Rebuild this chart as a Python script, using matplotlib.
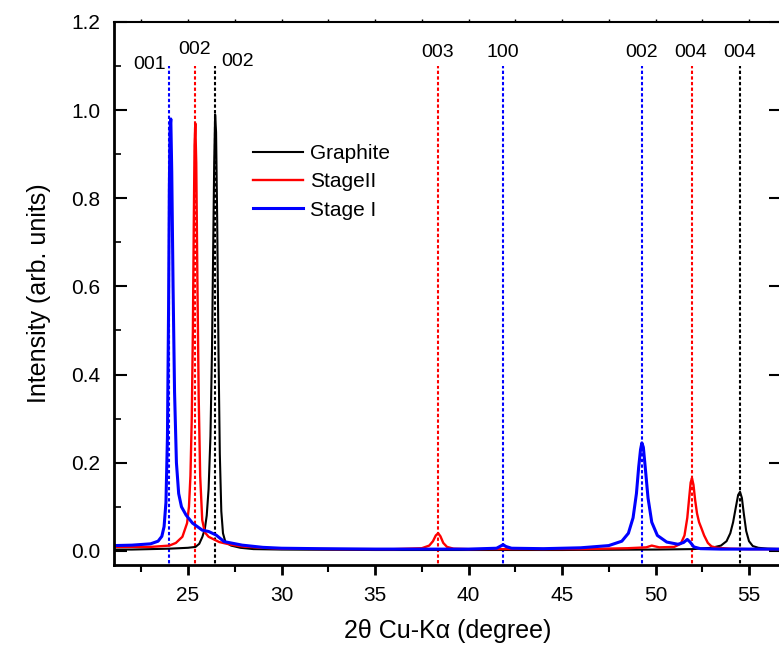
import matplotlib
matplotlib.use("Agg")
import matplotlib.pyplot as plt
from matplotlib.ticker import MultipleLocator, FormatStrFormatter

plt.rcParams['font.family'] = ['Liberation Sans', 'DejaVu Sans']

# Graphite (black)
graphite_x = [21.0, 22.0, 23.0, 24.0, 25.0, 25.4, 25.6, 25.77, 25.9, 26.0, 26.1, 26.2, 26.28, 26.35,
              26.4, 26.45, 26.5, 26.56, 26.63, 26.7, 26.78, 26.87, 27.0, 27.3, 27.8, 28.5, 30.0,
              35.0, 40.0, 45.0, 50.0, 52.0, 53.0, 53.5, 53.8, 54.0, 54.15, 54.3, 54.42, 54.52,
              54.62, 54.72, 54.85, 55.0, 55.2, 55.5, 56.0, 56.7]
graphite_y = [0.003, 0.003, 0.004, 0.005, 0.007, 0.009, 0.016, 0.032, 0.05, 0.08, 0.14, 0.26, 0.45,
              0.7, 0.88, 0.99, 0.95, 0.75, 0.45, 0.22, 0.09, 0.04, 0.02, 0.012, 0.007, 0.004, 0.003,
              0.002, 0.002, 0.002, 0.003, 0.004, 0.007, 0.012, 0.022, 0.04, 0.065, 0.1, 0.127,
              0.134, 0.12, 0.085, 0.045, 0.022, 0.011, 0.007, 0.005, 0.004]

# Stage II (red)
stage2_x = [21.0, 22.0, 23.0, 24.0, 24.35, 24.7, 24.95, 25.05, 25.13, 25.2, 25.26, 25.31, 25.35,
            25.39, 25.44, 25.5, 25.57, 25.65, 25.76, 25.9, 26.1, 26.67, 27.3, 27.9, 29.0, 30.0,
            33.0, 36.0, 37.5, 37.9, 38.1, 38.25, 38.38, 38.5, 38.65, 38.85, 39.2, 40.0, 43.0, 46.0,
            48.5, 49.5, 49.8, 50.2, 51.0, 51.35, 51.55, 51.7, 51.8, 51.88, 51.95, 52.03, 52.12,
            52.22, 52.33, 52.45, 52.6, 52.8, 53.0, 53.3, 54.0, 55.0, 56.7]
stage2_y = [0.009, 0.009, 0.009, 0.012, 0.018, 0.032, 0.063, 0.1, 0.17, 0.3, 0.5, 0.75, 0.92,
            0.97, 0.88, 0.62, 0.35, 0.17, 0.07, 0.042, 0.032, 0.02, 0.014, 0.01, 0.007, 0.005,
            0.004, 0.004, 0.006, 0.012, 0.022, 0.035, 0.04, 0.033, 0.018, 0.009, 0.005, 0.004,
            0.004, 0.004, 0.006, 0.008, 0.012, 0.008, 0.009, 0.016, 0.035, 0.075, 0.12, 0.155,
            0.165, 0.15, 0.115, 0.085, 0.065, 0.052, 0.035, 0.018, 0.01, 0.007, 0.005, 0.004,
            0.004]

# Stage I (blue)
stage1_x = [21.0, 22.0, 23.0, 23.4, 23.6, 23.72, 23.82, 23.9, 23.96, 24.0, 24.04, 24.08, 24.13,
            24.2, 24.28, 24.38, 24.5, 24.65, 24.9, 25.24, 25.76, 26.1, 26.5, 26.93, 27.9, 29.0,
            30.0, 32.0, 35.0, 38.0, 40.0, 41.5, 41.72, 41.85, 42.0, 42.3, 44.0, 46.0, 47.5, 48.2,
            48.55, 48.8, 48.98, 49.1, 49.2, 49.27, 49.35, 49.45, 49.6, 49.8, 50.1, 50.6, 51.2,
            51.5, 51.7, 51.85, 52.05, 52.4, 53.5, 56.7]
stage1_y = [0.012, 0.013, 0.016, 0.022, 0.033, 0.055, 0.11, 0.26, 0.55, 0.82, 0.96, 0.98, 0.86,
            0.6, 0.36, 0.2, 0.13, 0.1, 0.081, 0.063, 0.047, 0.044, 0.036, 0.021, 0.013, 0.008,
            0.006, 0.005, 0.004, 0.004, 0.004, 0.006, 0.011, 0.014, 0.01, 0.006, 0.005, 0.007,
            0.012, 0.022, 0.04, 0.075, 0.13, 0.19, 0.23, 0.245, 0.235, 0.19, 0.12, 0.065, 0.035,
            0.02, 0.015, 0.019, 0.026, 0.02, 0.009, 0.005, 0.004, 0.004]

# reflection markers
ref_pos = [24.0, 25.35, 26.45, 38.38, 41.85, 49.27, 51.95, 54.52]
ref_color = ['blue', 'red', 'black', 'red', 'blue', 'blue', 'red', 'black']
ref_label = ['001', '002', '002', '003', '100', '002', '004', '004']
label_x = [22.97, 25.37, 27.67, 38.37, 41.84, 49.27, 51.9, 54.5]
label_y = [1.103, 1.137, 1.11, 1.13, 1.13, 1.13, 1.13, 1.13]

fig = plt.figure(figsize=(7.79, 6.5), dpi=100)
ax = fig.add_axes([0.1463, 0.1308, 0.856, 0.8354])

for p, c in zip(ref_pos, ref_color):
    ax.plot([p, p], [-0.04, 1.1], ls=(0, (1.6, 1.1)), color=c, lw=1.5)

ax.plot(graphite_x, graphite_y, color='black', lw=1.5, label='Graphite')
ax.plot(stage2_x, stage2_y, color='red', lw=1.7, label='StageII')
ax.plot(stage1_x, stage1_y, color='blue', lw=2.2, label='Stage I')

for t, x, y in zip(ref_label, label_x, label_y):
    ax.text(x, y, t, ha='center', va='center', fontsize=14)

ax.set_xlim(21.04, 56.7)
ax.set_ylim(-0.032, 1.2)
ax.xaxis.set_major_locator(MultipleLocator(5))
ax.xaxis.set_minor_locator(MultipleLocator(2.5))
ax.yaxis.set_major_locator(MultipleLocator(0.2))
ax.yaxis.set_minor_locator(MultipleLocator(0.1))
ax.yaxis.set_major_formatter(FormatStrFormatter('%.1f'))

ax.tick_params(axis='x', which='major', direction='out', length=7, width=2, labelsize=15, pad=8)
ax.tick_params(axis='x', which='minor', direction='out', length=5, width=1.5)
ax.tick_params(axis='x', which='both', top=True)
ax.tick_params(axis='y', which='major', direction='in', length=9, width=1.5, labelsize=15, pad=10,
               right=True)
ax.tick_params(axis='y', which='minor', direction='in', length=5, width=1.2, right=True)
# faint top ticks, tiny right minor ticks
for t in ax.xaxis.get_major_ticks() + ax.xaxis.get_minor_ticks():
    t.tick2line.set_markersize(2)
    t.tick2line.set_color('#999999')
    t.tick2line.set_markeredgewidth(1)
for t in ax.yaxis.get_minor_ticks():
    t.tick2line.set_markersize(1.5)
    t.tick2line.set_color('#999999')

for s in ['left', 'bottom']:
    ax.spines[s].set_linewidth(2.0)
ax.spines['top'].set_linewidth(1.5)
ax.spines['right'].set_visible(False)

ax.set_xlabel('2θ Cu-Kα (degree)', fontsize=18, labelpad=10)
ax.set_ylabel('Intensity (arb. units)', fontsize=18, labelpad=14)

ax.legend(loc='upper left', bbox_to_anchor=(0.18, 0.81), frameon=False, fontsize=15,
          handlelength=2.4, handletextpad=0.35, labelspacing=0.45)

fig.savefig('out.png', dpi=100)
